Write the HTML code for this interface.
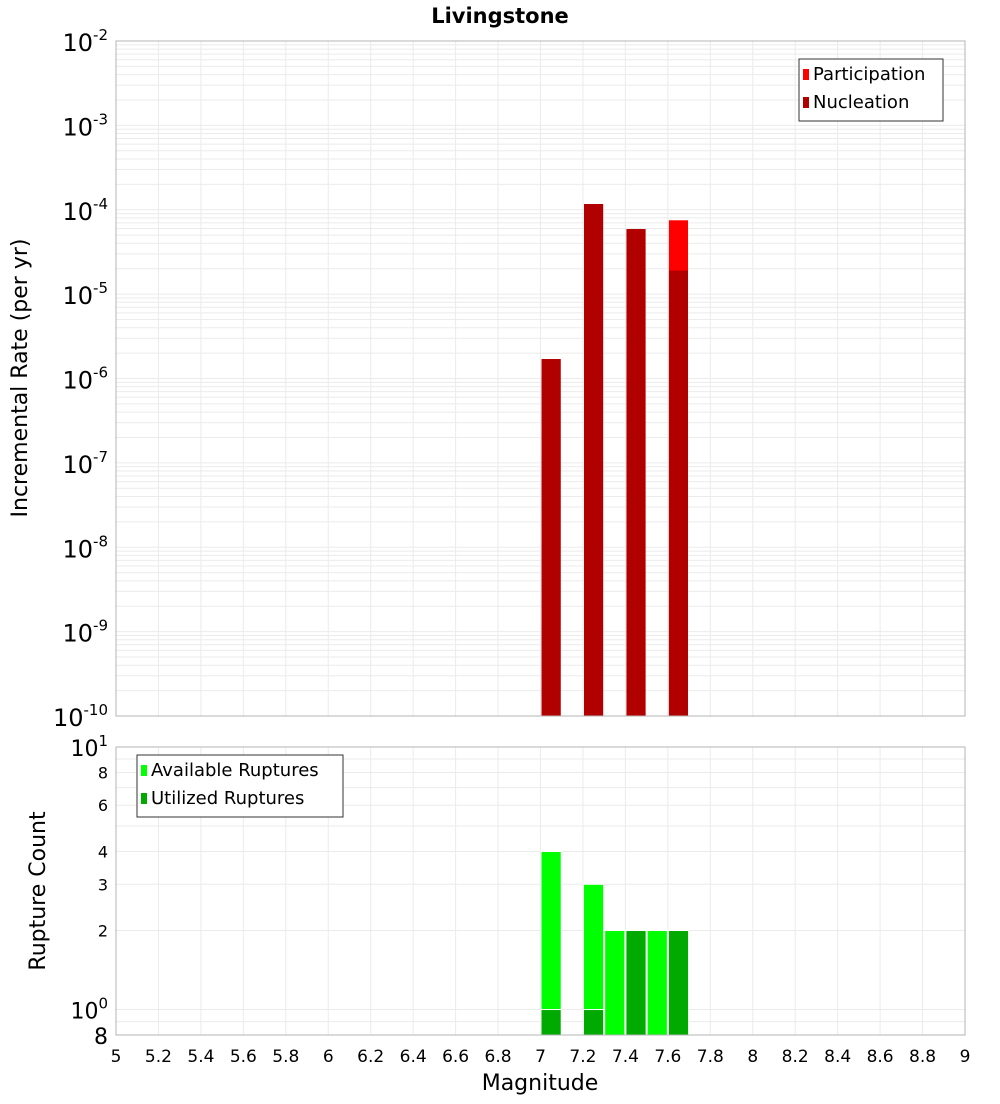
<!DOCTYPE html>
<html><head><meta charset="utf-8"><style>
body{margin:0;background:#fff;font-family:"DejaVu Sans","Liberation Sans",sans-serif}
</style></head><body>
<svg id="chart" width="1000" height="1100" xmlns="http://www.w3.org/2000/svg" font-family="DejaVu Sans, Liberation Sans, sans-serif">
<text x="500" y="23" text-anchor="middle" font-size="21" font-weight="bold">Livingstone</text>
<text transform="translate(27,378) rotate(-90)" text-anchor="middle" font-size="22">Incremental Rate (per yr)</text>
<text transform="translate(45,891) rotate(-90)" text-anchor="middle" font-size="22">Rupture Count</text>
<text x="540" y="1090" text-anchor="middle" font-size="22">Magnitude</text>
<g id="topg"></g><g id="botg"></g>
</svg>
<script>
const xTicks=[5,5.2,5.4,5.6,5.8,6,6.2,6.4,6.6,6.8,7,7.2,7.4,7.6,7.8,8,8.2,8.4,8.6,8.8,9];
const nucMags=[7.05,7.25,7.45,7.65];
const nucleation=[1.7e-6,1.17e-4,5.9e-5,1.9e-5];
const participation=[1.7e-6,1.17e-4,5.9e-5,7.5e-5];
const cntMags=[7.05,7.25,7.35,7.45,7.55,7.65];
const available=[4,3,2,2,2,2];
const utilized=[1,1,0,2,0,2];
const NS="http://www.w3.org/2000/svg";
const X0=116,X1=965;
const xs=v=>X0+(v-5)/4*(X1-X0);
const tT=41,tB=716,bT=747,bB=1035;
const yTop=v=>tB-(Math.log10(v)+10)/8*(tB-tT);
const bMin=Math.log10(0.8),bMax=1;
const yBot=v=>bB-(Math.log10(v)-bMin)/(bMax-bMin)*(bB-bT);
function mk(p,tag,a){const e=document.createElementNS(NS,tag);for(const k in a)e.setAttribute(k,a[k]);p.appendChild(e);return e;}
const topG=document.getElementById('topg'),botG=document.getElementById('botg');
for(let d=-10;d<-2;d++)for(let m=1;m<10;m++){const y=yTop(m*Math.pow(10,d));
 const l=mk(topG,'line',{x1:X0,x2:X1,y1:y,y2:y,stroke:'#ebebeb','stroke-width':1});
 
 }
xTicks.forEach(t=>{const x=xs(t);
 const l=mk(topG,'line',{x1:x,x2:x,y1:tT,y2:tB,stroke:'#ebebeb'});
 
 
 const l2=mk(botG,'line',{x1:x,x2:x,y1:bT,y2:bB,stroke:'#ebebeb'});
 
 
 const tx=mk(botG,'text',{x:x,y:1062,'text-anchor':'middle','font-size':17});
 tx.textContent=String(t);
 
 });
const bTicks=[0.8,0.9,1,2,3,4,5,6,7,8,9,10];
bTicks.forEach(v=>{const y=yBot(v);
 const l=mk(botG,'line',{x1:X0,x2:X1,y1:y,y2:y,stroke:'#ebebeb'});
 
 });
for(let d=-10;d<=-2;d++){const y=yTop(Math.pow(10,d));
 const t=mk(topG,'text',{x:108,y:y+10,'text-anchor':'end','font-size':24});
 t.innerHTML='10<tspan dy="-11" font-size="15">'+d+'</tspan>';
 
 }
const bw=(X1-X0)/4*0.09;
nucMags.forEach((m,i)=>{
 const yp=yTop(participation[i]);
 const r=mk(topG,'rect',{x:xs(m)-bw/2,y:yp,width:bw,height:tB-yp,fill:'#ff0000'});
 
 
 const yn=yTop(nucleation[i]);
 const r2=mk(topG,'rect',{x:xs(m)-bw/2,y:yn,width:bw,height:tB-yn,fill:'#b00000'});
 
 });
mk(topG,'rect',{x:X0,y:tT,width:X1-X0,height:tB-tT,fill:'none',stroke:'#b4b4b4'});
[[10,'10','1'],[8,'8'],[6,'6'],[4,'4'],[3,'3'],[2,'2'],[1,'10','0'],[0.8,'8']].forEach(a=>{
 const y=yBot(a[0]);const big=a[0]===10||a[0]===1||a[0]===0.8;
 const t=mk(botG,'text',{x:108,y:y+(big?9:6),'text-anchor':'end','font-size':big?22:16});
 t.innerHTML=a[1]+(a[2]?'<tspan dy="-10" font-size="15">'+a[2]+'</tspan>':'');
 
 });
const cw=(X1-X0)/4*0.1;
cntMags.forEach((m,i)=>{
 const ya=yBot(available[i]);
 const r=mk(botG,'rect',{x:xs(m)-cw/2+0.5,y:ya,width:cw-1,height:bB-ya,fill:'#00ff00',stroke:'#fff','stroke-width':1});
 
 
 if(utilized[i]>0){const yu=yBot(utilized[i]);
 const r2=mk(botG,'rect',{x:xs(m)-cw/2+0.5,y:yu,width:cw-1,height:bB-yu,fill:'#00aa00',stroke:'#fff','stroke-width':1});
 
 }});
mk(botG,'rect',{x:X0,y:bT,width:X1-X0,height:bB-bT,fill:'none',stroke:'#b4b4b4'});
function legend(p,x,y,w,items,name){const g=mk(p,'g',{});
 
 
 mk(g,'rect',{x:x,y:y,width:w,height:items.length*28+6,fill:'#fff',stroke:'#333'});
 items.forEach((it,i)=>{mk(g,'rect',{x:x+4,y:y+10+i*28,width:6,height:11,fill:it[1]});
 const t=mk(g,'text',{x:x+14,y:y+21+i*28,'font-size':18});t.textContent=it[0];});}
legend(topG,799,59,144,[['Participation','#ff0000'],['Nucleation','#b00000']],'top-legend');
legend(botG,137,755,206,[['Available Ruptures','#00ff00'],['Utilized Ruptures','#00aa00']],'bottom-legend');
</script>
</body></html>
